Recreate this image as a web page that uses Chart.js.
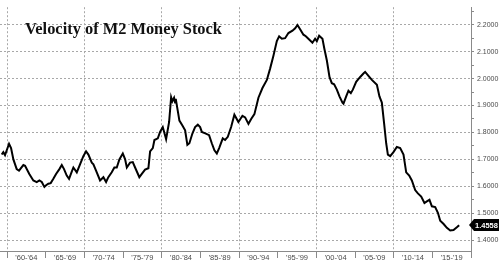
<!DOCTYPE html>
<html>
<head>
<meta charset="utf-8">
<script src="https://cdn.jsdelivr.net/npm/chart.js@4"></script>
<style>
  html, body { margin: 0; padding: 0; background: #fff; }
  #wrap { position: relative; width: 500px; height: 262px; }
  #title {
    position: absolute; left: 25px; top: 21px;
    font: bold 16.4px/16px "Liberation Serif", "DejaVu Serif", serif;
    color: #111; white-space: nowrap;
  }
</style>
</head>
<body>
<div id="wrap">
  <canvas id="chart" width="500" height="262"></canvas>
  <div id="title">Velocity of M2 Money Stock</div>
</div>
<script>
// Data (year as decimal, velocity value)
const years = [
  1959.31, 1959.52, 1959.74, 1960.26, 1960.52, 1960.82, 1961.25, 1961.55, 1962.11, 1962.33,
  1962.88, 1963.40, 1963.84, 1964.18, 1964.49, 1964.83, 1965.05, 1965.34, 1965.65, 1965.99,
  1966.34, 1966.77, 1967.08, 1967.37, 1967.72, 1968.02, 1968.37, 1968.58, 1969.02, 1969.44,
  1969.87, 1970.22, 1970.52, 1970.96, 1971.17, 1971.51, 1972.03, 1972.46, 1972.81, 1973.10,
  1973.54, 1973.88, 1974.19, 1974.53, 1974.97, 1975.27, 1975.49, 1975.91, 1976.26, 1976.56,
  1977.11, 1977.43, 1977.85, 1978.28, 1978.50, 1978.85, 1979.06, 1979.50, 1979.79, 1980.14,
  1980.57, 1980.96, 1981.22, 1981.38, 1981.60, 1981.73, 1981.82, 1982.08, 1982.29, 1982.68,
  1983.03, 1983.32, 1983.58, 1983.97, 1984.32, 1984.67, 1984.97, 1985.19, 1985.71, 1986.13,
  1986.48, 1986.82, 1987.13, 1987.43, 1987.90, 1988.20, 1988.55, 1988.98, 1989.40, 1989.92,
  1990.44, 1990.79, 1991.22, 1991.57, 1991.99, 1992.51, 1993.03, 1993.60, 1994.02, 1994.45,
  1994.89, 1995.19, 1995.54, 1995.96, 1996.39, 1996.91, 1997.26, 1997.56, 1997.90, 1998.33,
  1998.64, 1999.07, 1999.49, 1999.84, 2000.06, 2000.36, 2000.79, 2001.05, 2001.36, 2001.70,
  2002.00, 2002.30, 2002.65, 2002.99, 2003.38, 2003.51, 2003.86, 2004.15, 2004.46, 2004.72,
  2005.15, 2005.67, 2006.09, 2006.31, 2006.74, 2007.18, 2007.83, 2008.16, 2008.47, 2008.77,
  2009.03, 2009.25, 2009.55, 2009.97, 2010.41, 2010.84, 2011.27, 2011.62, 2012.01, 2012.35,
  2012.78, 2013.13, 2013.56, 2013.98, 2014.29, 2014.63, 2014.94, 2015.37, 2015.72, 2016.02,
  2016.46, 2016.88, 2017.31, 2017.74, 2018.17, 2018.47
];
const velocity = [
  1.718, 1.727, 1.716, 1.758, 1.742, 1.700, 1.664, 1.658, 1.679, 1.676,
  1.646, 1.622, 1.616, 1.622, 1.616, 1.598, 1.604, 1.610, 1.612, 1.628,
  1.646, 1.664, 1.679, 1.664, 1.640, 1.628, 1.655, 1.670, 1.652, 1.682,
  1.712, 1.730, 1.718, 1.688, 1.682, 1.658, 1.622, 1.634, 1.616, 1.634,
  1.652, 1.670, 1.670, 1.700, 1.722, 1.700, 1.670, 1.688, 1.690, 1.670,
  1.634, 1.646, 1.662, 1.667, 1.730, 1.742, 1.772, 1.778, 1.802, 1.820,
  1.775, 1.839, 1.931, 1.916, 1.929, 1.911, 1.925, 1.880, 1.844, 1.826,
  1.808, 1.754, 1.760, 1.796, 1.820, 1.829, 1.820, 1.802, 1.796, 1.790,
  1.760, 1.734, 1.722, 1.742, 1.778, 1.772, 1.784, 1.820, 1.866, 1.839,
  1.862, 1.856, 1.832, 1.850, 1.868, 1.929, 1.965, 1.995, 2.037, 2.085,
  2.139, 2.157, 2.148, 2.150, 2.169, 2.178, 2.187, 2.199, 2.183, 2.163,
  2.157, 2.145, 2.133, 2.148, 2.139, 2.159, 2.148, 2.109, 2.067, 2.006,
  1.983, 1.979, 1.959, 1.934, 1.911, 1.907, 1.934, 1.955, 1.946, 1.959,
  1.988, 2.006, 2.019, 2.025, 2.010, 1.995, 1.977, 1.934, 1.911, 1.832,
  1.760, 1.718, 1.712, 1.727, 1.746, 1.742, 1.718, 1.652, 1.640, 1.622,
  1.586, 1.574, 1.562, 1.538, 1.544, 1.550, 1.526, 1.523, 1.502, 1.472,
  1.460, 1.446, 1.436, 1.438, 1.448, 1.4558
];
const lastLabel = '1.4558';

// x axis: five-year bands, labelled in their middle
const bandStarts = [1960, 1965, 1970, 1975, 1980, 1985, 1990, 1995, 2000, 2005, 2010, 2015];
const bandLabels = ["'60-'64", "'65-'69", "'70-'74", "'75-'79", "'80-'84", "'85-'89",
                    "'90-'94", "'95-'99", "'00-'04", "'05-'09", "'10-'14", "'15-'19"];
// y axis tick labels
const yTicks = [1.4, 1.5, 1.6, 1.7, 1.8, 1.9, 2.0, 2.1, 2.2];

const gridColor = '#a8a8a8';
const axisColor = '#8a8a8a';
const labelColor = '#4a4a4a';
const clear = 'rgba(0,0,0,0)';

const near = (a, b) => Math.abs(a - b) < 1e-6;

// black tag with the latest value, pinned on the right axis
const lastValueTag = {
    id: 'lastValueTag',
    afterDraw(chart) {
        const ctx = chart.ctx;
        const y = Math.round(chart.scales.y.getPixelForValue(velocity[velocity.length - 1]));
        const x0 = chart.chartArea.right;
        ctx.save();
        ctx.fillStyle = '#000';
        ctx.beginPath();
        ctx.moveTo(x0 - 2, y);
        ctx.lineTo(x0 + 3, y - 6);
        ctx.lineTo(499, y - 6);
        ctx.lineTo(499, y + 6);
        ctx.lineTo(x0 + 3, y + 6);
        ctx.closePath();
        ctx.fill();
        ctx.fillStyle = '#fff';
        ctx.font = 'bold 7.5px "Liberation Sans", Arial, sans-serif';
        ctx.textBaseline = 'middle';
        ctx.textAlign = 'left';
        ctx.fillText(lastLabel, x0 + 4, y + 0.5);
        ctx.restore();
    }
};

new Chart(document.getElementById('chart'), {
    type: 'line',
    data: {
        datasets: [{
            data: years.map((yr, i) => ({ x: yr, y: velocity[i] })),
            borderColor: '#000',
            borderWidth: 2,
            pointRadius: 0,
            tension: 0,
            fill: false
        }]
    },
    options: {
        responsive: false,
        animation: false,
        events: [],
        layout: { padding: 0 },
        plugins: { legend: { display: false }, tooltip: { enabled: false } },
        scales: {
            x: {
                type: 'linear',
                min: 1959.09,
                max: 2020,
                afterBuildTicks: (scale) => {
                    const t = [];
                    for (let v = 1960; v <= 2020; v += 2.5) t.push({ value: v });
                    scale.ticks = t;
                },
                afterFit: (scale) => { scale.height = 11; },
                border: { color: axisColor, width: 1, dash: [2, 2] },
                grid: {
                    color: (c) => (c.tick && c.tick.value % 10 === 0 && c.tick.value < 2020) ? gridColor : clear,
                    tickColor: (c) => (c.tick && c.tick.value % 5 === 0) ? axisColor : clear,
                    tickBorderDash: [],
                    tickLength: 7,
                    lineWidth: 1
                },
                ticks: {
                    autoSkip: false,
                    maxRotation: 0,
                    padding: -5,
                    color: labelColor,
                    font: { family: '"Liberation Sans", Arial, sans-serif', size: 7.5 },
                    callback: (v) => {
                        const i = bandStarts.findIndex(s => near(s + 2.5, v));
                        return i >= 0 ? bandLabels[i] : '';
                    }
                }
            },
            y: {
                position: 'right',
                min: 1.36,
                max: 2.265,
                afterBuildTicks: (scale) => {
                    const t = [];
                    for (let k = 0; k <= 17; k++) t.push({ value: +(1.4 + k * 0.05).toFixed(2) });
                    scale.ticks = t;
                },
                afterFit: (scale) => { scale.width = 29; },
                border: { color: axisColor, width: 1, dash: [2, 2] },
                grid: {
                    color: (c) => (c.tick && yTicks.some(v => near(v, c.tick.value))) ? gridColor : clear,
                    tickColor: axisColor,
                    tickBorderDash: [],
                    tickLength: 3,
                    lineWidth: 1
                },
                ticks: {
                    autoSkip: false,
                    padding: 3,
                    color: labelColor,
                    font: { family: '"Liberation Sans", Arial, sans-serif', size: 7 },
                    callback: (v) => yTicks.some(t => near(t, v)) ? v.toFixed(4) : ''
                }
            }
        }
    },
    plugins: [lastValueTag]
});
</script>
</body>
</html>
